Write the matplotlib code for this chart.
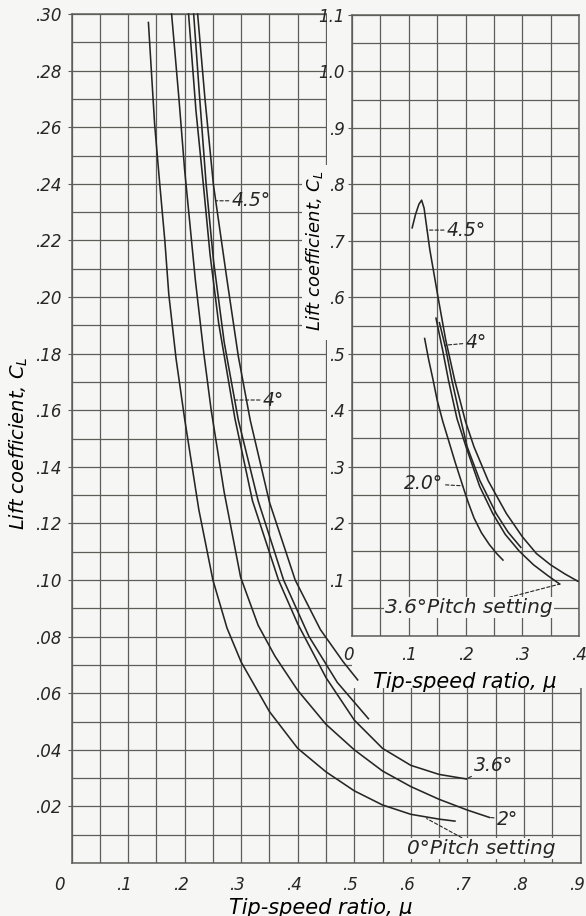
import matplotlib
matplotlib.use("Agg")
import matplotlib.pyplot as plt
import matplotlib.transforms as mtransforms
from matplotlib.patches import Polygon
from matplotlib.ticker import MultipleLocator, FixedFormatter, FixedLocator

# main chart: lift coefficient against tip-speed ratio, one curve per pitch setting
main_mu_0 = [0.136, 0.147, 0.156, 0.165, 0.172, 0.185, 0.200, 0.225, 0.250, 0.275,
             0.300, 0.350, 0.400, 0.450, 0.500, 0.550, 0.600, 0.650, 0.678]
main_cl_0 = [0.297, 0.261, 0.240, 0.220, 0.201, 0.178, 0.157, 0.125, 0.100, 0.083,
             0.071, 0.0535, 0.0405, 0.0322, 0.0255, 0.0205, 0.0172, 0.0155, 0.0148]

main_mu_2 = [0.177, 0.190, 0.200, 0.219, 0.234, 0.247, 0.270, 0.299, 0.330, 0.360,
             0.400, 0.450, 0.500, 0.550, 0.600, 0.650, 0.700, 0.739]
main_cl_2 = [0.300, 0.270, 0.245, 0.206, 0.180, 0.160, 0.131, 0.101, 0.084, 0.073,
             0.061, 0.049, 0.040, 0.0325, 0.027, 0.0225, 0.0187, 0.0161]

main_mu_36 = [0.207, 0.220, 0.233, 0.245, 0.260, 0.289, 0.320, 0.366, 0.400, 0.450,
              0.500, 0.550, 0.600, 0.650, 0.698]
main_cl_36 = [0.300, 0.266, 0.240, 0.215, 0.191, 0.157, 0.128, 0.100, 0.0845, 0.0655,
              0.0505, 0.0405, 0.0345, 0.0313, 0.0297]

main_mu_4 = [0.216, 0.226, 0.238, 0.251, 0.270, 0.295, 0.330, 0.375, 0.420, 0.470, 0.525]
main_cl_4 = [0.300, 0.272, 0.240, 0.213, 0.184, 0.1565, 0.128, 0.100, 0.080, 0.0638, 0.051]

main_mu_45 = [0.223, 0.236, 0.251, 0.275, 0.295, 0.316, 0.350, 0.3955, 0.440, 0.480, 0.506]
main_cl_45 = [0.300, 0.270, 0.2396, 0.206, 0.179, 0.1565, 0.1275, 0.100, 0.0825, 0.0712, 0.0647]

# inset chart (larger lift coefficients)
ins_mu_20 = [0.128, 0.135, 0.143, 0.150, 0.160, 0.173, 0.182, 0.190, 0.198, 0.205,
             0.215, 0.228, 0.242, 0.255, 0.266]
ins_cl_20 = [0.527, 0.490, 0.453, 0.418, 0.380, 0.337, 0.307, 0.282, 0.257, 0.236,
             0.209, 0.183, 0.162, 0.146, 0.1345]

ins_mu_36 = [0.148, 0.160, 0.170, 0.185, 0.201, 0.225, 0.248, 0.270, 0.295, 0.320, 0.345, 0.366]
ins_cl_36 = [0.563, 0.505, 0.453, 0.385, 0.335, 0.265, 0.217, 0.180, 0.150, 0.126, 0.107, 0.092]

ins_mu_4 = [0.154, 0.165, 0.176, 0.190, 0.203, 0.225, 0.254, 0.275, 0.2975]
ins_cl_4 = [0.555, 0.510, 0.453, 0.390, 0.335, 0.276, 0.217, 0.184, 0.157]

ins_mu_45 = [0.106, 0.112, 0.118, 0.1227, 0.127, 0.137, 0.152, 0.165, 0.181, 0.200,
             0.215, 0.240, 0.272, 0.300, 0.325, 0.350, 0.375, 0.398]
ins_cl_45 = [0.723, 0.747, 0.765, 0.772, 0.758, 0.685, 0.598, 0.525, 0.453, 0.380,
             0.335, 0.275, 0.217, 0.176, 0.146, 0.126, 0.110, 0.097]

main_xticks = [0.0, 0.1, 0.2, 0.3, 0.4, 0.5, 0.6, 0.7, 0.8, 0.9]
main_xlabels = ["0", ".1", ".2", ".3", ".4", ".5", ".6", ".7", ".8", ".9"]
main_yticks = [0.02, 0.04, 0.06, 0.08, 0.10, 0.12, 0.14, 0.16, 0.18, 0.20, 0.22, 0.24, 0.26, 0.28, 0.30]
main_ylabels = [".02", ".04", ".06", ".08", ".10", ".12", ".14", ".16", ".18", ".20",
                ".22", ".24", ".26", ".28", ".30"]
ins_xticks = [0.0, 0.1, 0.2, 0.3, 0.4]
ins_xlabels = ["0", ".1", ".2", ".3", ".4"]
ins_yticks = [0.1, 0.2, 0.3, 0.4, 0.5, 0.6, 0.7, 0.8, 0.9, 1.0, 1.1]
ins_ylabels = [".1", ".2", ".3", ".4", ".5", ".6", ".7", ".8", ".9", "1.0", "1.1"]

BG = "#f6f6f4"
GRID = "#5e5e59"
INK = "#262626"
W, H = 586, 916

plt.rcParams["font.family"] = "DejaVu Sans"
plt.rcParams["font.style"] = "oblique"
plt.rcParams["mathtext.fontset"] = "dejavusans"
plt.rcParams["text.color"] = INK

fig = plt.figure(figsize=(W / 100, H / 100), dpi=100, facecolor=BG)


def px(x, y):
    # pixel position in the picture -> figure fraction
    return (x / W, 1 - y / H)


def shift(label, dx):
    label.set_transform(label.get_transform() +
                        mtransforms.ScaledTranslation(dx / 100, 0, fig.dpi_scale_trans))


def style_axes(a, xticks, xlabels, yticks, ylabels, xminor, yminor):
    a.set_facecolor("none")
    a.xaxis.set_major_locator(FixedLocator(xticks))
    a.xaxis.set_major_formatter(FixedFormatter(xlabels))
    a.yaxis.set_major_locator(FixedLocator(yticks))
    a.yaxis.set_major_formatter(FixedFormatter(ylabels))
    a.xaxis.set_minor_locator(MultipleLocator(xminor))
    a.yaxis.set_minor_locator(MultipleLocator(yminor))
    a.grid(which="both", color=GRID, lw=0.9)
    a.set_axisbelow(True)
    for s in a.spines.values():
        s.set_color(GRID)
        s.set_linewidth(1.1)
    a.tick_params(axis="x", which="both", length=0, colors=INK)
    a.tick_params(axis="y", which="major", length=3, color=GRID, colors=INK)
    a.tick_params(axis="y", which="minor", length=0)


# ---- main axes ----
ax = fig.add_axes([71.5 / W, 1 - 863 / H, 509 / W, 849 / H])
ax.set_xlim(0, 0.9)
ax.set_ylim(0, 0.30)
style_axes(ax, main_xticks, main_xlabels, main_yticks, main_ylabels, 0.05, 0.01)
ax.tick_params(axis="x", labelsize=12, pad=9)
ax.tick_params(axis="y", labelsize=12, pad=4)
ax.set_xlabel("Tip-speed ratio, μ", fontsize=15)
ax.xaxis.set_label_coords(0.49, -0.041)
ax.set_ylabel("Lift coefficient, $C_L$", fontsize=14)
ax.yaxis.set_label_coords(-0.081, 0.494)
fig.canvas.draw()
for i, t in enumerate(ax.get_xticklabels()):
    shift(t, -12 if i == 0 else -4)

# white-out behind the inset and its labels
mask_px = [(327, 0), (586, 0), (586, 688), (352, 688), (352, 657), (327, 657),
           (327, 340), (302, 340), (302, 165), (327, 165)]
ax.add_patch(Polygon([px(*p) for p in mask_px], closed=True, transform=fig.transFigure,
                     facecolor=BG, edgecolor="none", zorder=2.7, clip_on=False))

line_kw = dict(color=INK, lw=1.15, zorder=3, clip_on=False)
for mu, cl in [(main_mu_0, main_cl_0), (main_mu_2, main_cl_2), (main_mu_36, main_cl_36),
               (main_mu_4, main_cl_4), (main_mu_45, main_cl_45)]:
    ax.plot(mu, cl, **line_kw)

lead = dict(arrowstyle="-", color=INK, lw=0.8, linestyle=(0, (3, 2)), shrinkA=0, shrinkB=0)
ax.annotate("4.5°", xy=(0.255, 0.234), xytext=(0.283, 0.234), fontsize=13.5,
            va="center", ha="left", arrowprops=lead, zorder=4)
ax.annotate("4°", xy=(0.290, 0.1636), xytext=(0.338, 0.1636), fontsize=13.5,
            va="center", ha="left", arrowprops=lead, zorder=4)
ax.annotate("3.6°", xy=(main_mu_36[-1], main_cl_36[-1]), xytext=(0.712, 0.0345), fontsize=13.5,
            va="center", ha="left", arrowprops=lead, zorder=4)
ax.annotate("2°", xy=(main_mu_2[-1], main_cl_2[-1]), xytext=(0.752, 0.0155), fontsize=13.5,
            va="center", ha="left", arrowprops=lead, zorder=4)
ax.annotate("0°Pitch setting", xy=(0.628, 0.0157), xytext=(0.593, 0.0052), fontsize=14.5,
            va="center", ha="left", arrowprops=lead, zorder=4,
            bbox=dict(boxstyle="square,pad=0.05", fc=BG, ec="none"))

# ---- inset axes ----
ax2 = fig.add_axes([352 / W, 1 - 636 / H, 227 / W, 621 / H])
ax2.set_xlim(0, 0.4)
ax2.set_ylim(0, 1.1)
style_axes(ax2, ins_xticks, ins_xlabels, ins_yticks, ins_ylabels, 0.05, 0.05)
ax2.tick_params(axis="x", labelsize=12, pad=7)
ax2.tick_params(axis="y", labelsize=12, pad=2)
ax2.set_xlabel("Tip-speed ratio, μ", fontsize=15)
ax2.xaxis.set_label_coords(0.498, -0.058)
ax2.set_ylabel("Lift coefficient, $C_L$", fontsize=13)
ax2.yaxis.set_label_coords(-0.12, 0.62)
fig.canvas.draw()
shift(ax2.get_xticklabels()[0], -4)

for mu, cl in [(ins_mu_20, ins_cl_20), (ins_mu_36, ins_cl_36), (ins_mu_4, ins_cl_4),
               (ins_mu_45, ins_cl_45)]:
    ax2.plot(mu, cl, **line_kw)

ax2.annotate("4.5°", xy=(0.132, 0.719), xytext=(0.167, 0.719), fontsize=13.5,
             va="center", ha="left", arrowprops=lead)
ax2.annotate("4°", xy=(0.163, 0.515), xytext=(0.200, 0.52), fontsize=13.5,
             va="center", ha="left", arrowprops=lead)
ax2.annotate("2.0°", xy=(0.195, 0.266), xytext=(0.160, 0.27), fontsize=13.5,
             va="center", ha="right", arrowprops=lead)
ax2.annotate("3.6°Pitch setting", xy=(ins_mu_36[-1], ins_cl_36[-1]), xytext=(0.206, 0.05),
             fontsize=14.5, va="center", ha="center", arrowprops=lead,
             bbox=dict(boxstyle="square,pad=0.05", fc=BG, ec="none"))

fig.savefig("out.png", dpi=100, facecolor=BG)
